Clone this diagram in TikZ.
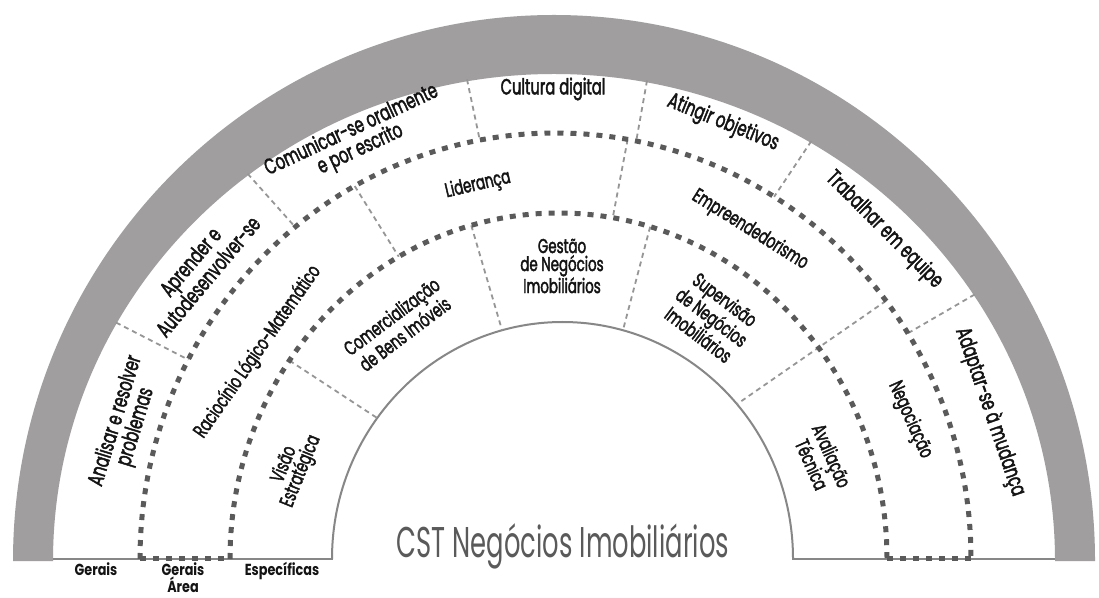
\documentclass[tikz,border=0pt]{standalone}
\usepackage{fontspec}
\newfontfamily\lblfont[FakeStretch=0.67,FakeBold=2]{Poppins}
\newfontfamily\botfont[FakeStretch=0.8]{Poppins}
\newfontfamily\ttlfont[FakeStretch=0.6]{Poppins}
\definecolor{bandgray}{RGB}{160,158,158}
\definecolor{dotgray}{RGB}{90,90,90}
\definecolor{thingray}{RGB}{150,150,150}
\definecolor{arcgray}{RGB}{135,135,135}
\definecolor{txt}{RGB}{20,20,20}
\definecolor{ttl}{RGB}{90,90,90}
\begin{document}
\begin{tikzpicture}[x=1pt,y=1pt,
  lbl/.style={font=\lblfont\fontsize{22}{21}\selectfont, text=txt, align=center, inner sep=0pt},
  lblm/.style={font=\lblfont\fontsize{20}{18}\selectfont, text=txt, align=center, inner sep=0pt},
  lbls/.style={font=\botfont\bfseries\fontsize{16}{17}\selectfont, text=txt, align=center, inner sep=0pt},
  dotline/.style={draw=dotgray, line width=5pt, dash pattern=on 6pt off 7pt},
  divider/.style={draw=thingray, line width=1.8pt, dash pattern=on 5pt off 4pt},
  baseline/.style={draw=arcgray, line width=1.5pt}]
\useasboundingbox (0,0) rectangle (1099,597);
\fill[white] (0,0) rectangle (1099,597);
% gray band
\fill[bandgray] (13,36) arc[start angle=180,end angle=0,x radius=541,y radius=546]
  -- (1055,36) arc[start angle=0,end angle=180,x radius=501,y radius=487] -- cycle;
% base lines
\draw[baseline] (53,38) -- (333,38);
\draw[baseline] (792,38) -- (1055,38);
% inner solid arc
\draw[draw=arcgray, line width=2pt] (332,38) arc[start angle=180,end angle=0,x radius=230.5,y radius=237];
% dividers outer ring
\draw[divider] ([shift={(554,38)}]150.95:501 and 487) -- ([shift={(555.5,38)}]152.1:415.5 and 426);
\draw[divider] ([shift={(554,38)}]127.7:501 and 487) -- ([shift={(555.5,38)}]128.8:415.5 and 426);
\draw[divider] ([shift={(554,38)}]100:501 and 487) -- ([shift={(555.5,38)}]100.5:415.5 and 426);
\draw[divider] ([shift={(554,38)}]79.3:501 and 487) -- ([shift={(555.5,38)}]78.8:415.5 and 426);
\draw[divider] ([shift={(554,38)}]59.1:501 and 487) -- ([shift={(555.5,38)}]58.25:415.5 and 426);
\draw[divider] ([shift={(554,38)}]32.9:501 and 487) -- ([shift={(555.5,38)}]32.0:415.5 and 426);
% dividers middle ring
\draw[divider] ([shift={(555.5,38)}]118.9:415.5 and 426) -- ([shift={(558.5,38)}]119.1:328.5 and 346);
\draw[divider] ([shift={(555.5,38)}]80:415.5 and 426) -- ([shift={(558.5,38)}]80.5:328.5 and 346);
\draw[divider] ([shift={(555.5,38)}]37.3:415.5 and 426) -- ([shift={(562.5,38)}]40.8:230.5 and 237);
% dividers inner ring
\draw[divider] ([shift={(558.5,38)}]145:328.5 and 346) -- ([shift={(562.5,38)}]143.5:230.5 and 237);
\draw[divider] ([shift={(558.5,38)}]105.4:328.5 and 346) -- ([shift={(562.5,38)}]105.2:230.5 and 237);
\draw[divider] ([shift={(558.5,38)}]73.8:328.5 and 346) -- ([shift={(562.5,38)}]74.8:230.5 and 237);
% thick dotted arcs
\draw[dotline] (140,38) arc[start angle=180,end angle=0,x radius=415.5,y radius=426];
\draw[dotline] (230,38) arc[start angle=180,end angle=0,x radius=328.5,y radius=346];
\draw[dotline] (140,39) -- (230,39);
\draw[dotline] (887,39) -- (971,39);
% outer ring labels
\node[lbl, rotate=73] (analisar) at (126,173) {Analisar e resolver\\problemas};
\node[lbl, rotate=50] (aprender) at (199,328) {Aprender e\\Autodesenvolver-se};
\node[lbl, rotate=25] (comunicar) at (356,457) {Comunicar-se oralmente\\e por escrito};
\node[lbl] (cultura) at (553,508) {Cultura digital};
\node[lbl, rotate=-22] (atingir) at (723,474) {Atingir objetivos};
\node[lbl, rotate=-45] (trabalhar) at (884,367) {Trabalhar em equipe};
\node[lbl, rotate=-71] (adaptar) at (990,185) {Adaptar-se à mudança};
% middle ring labels
\node[lblm, rotate=55] (raciocinio) at (258,245) {Raciocínio Lógico-Matemático};
\node[lblm, rotate=13] (lideranca) at (478,412) {Liderança};
\node[lblm, rotate=-32] (empreend) at (750,367) {Empreendedorismo};
\node[lblm, rotate=-66] (negociacao) at (910,177) {Negociação};
% inner ring labels
\node[lblm, rotate=68] (visao) at (293,129) {Visão\\Estratégica};
\node[lblm, rotate=37] (comerc) at (398,272) {Comercialização\\de Bens Imóveis};
\node[lblm] (gestao) at (562,331) {Gestão\\de Negócios\\Imobiliários};
\node[lblm, rotate=-37] (superv) at (712,280) {Supervisão\\de Negócios\\Imobiliários};
\node[lblm, rotate=-66] (avaliacao) at (822,137) {Avaliação\\Técnica};
% title
\node[font=\ttlfont\fontsize{43}{43}\selectfont, text=ttl, anchor=base, inner sep=0pt] (title) at (563,40) {CST Negócios Imobiliários};
% bottom labels
\node[lbls, anchor=north] (gerais) at (96,35) {Gerais};
\node[lbls, anchor=north] (geraisarea) at (183,35) {Gerais\\Área};
\node[lbls, anchor=north] (especificas) at (282,35) {Específicas};
\end{tikzpicture}
\end{document}
